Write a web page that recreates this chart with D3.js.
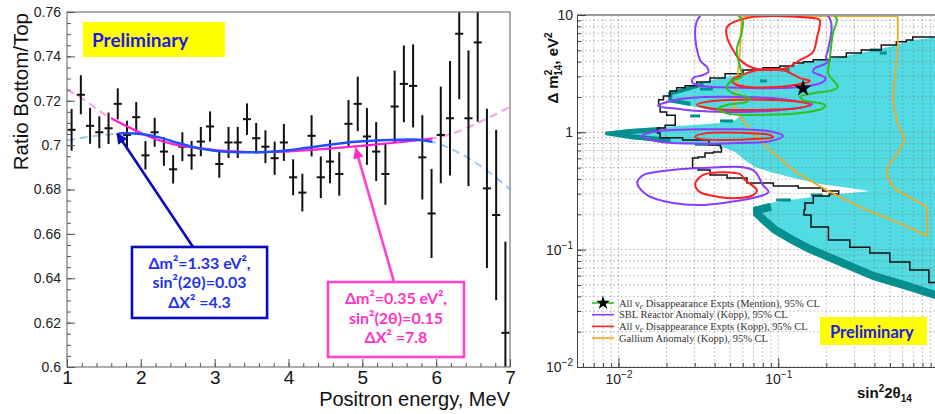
<!DOCTYPE html>
<html>
<head>
<meta charset="utf-8">
<script src="https://cdn.jsdelivr.net/npm/d3@7"></script>
<style>
body { margin: 0; background: #fff; }
</style>
</head>
<body>
<div id="chart"></div>
<script>
/* left: bottom/top ratio of the positron spectrum with two oscillation fits
   right: sterile neutrino exclusion (log-log) with allowed regions from other expts */

// ---------- left panel data ----------
const energy = [1.0625, 1.1875, 1.3125, 1.4375, 1.5625, 1.6875, 1.8125, 1.9375, 2.0625, 2.1875, 2.3125, 2.4375,
  2.5625, 2.6875, 2.8125, 2.9375, 3.0625, 3.1875, 3.3125, 3.4375, 3.5625, 3.6875, 3.8125, 3.9375,
  4.0625, 4.1875, 4.3125, 4.4375, 4.5625, 4.6875, 4.8125, 4.9375, 5.0625, 5.1875, 5.3125, 5.4375,
  5.5625, 5.6875, 5.8125, 5.9375, 6.0625, 6.1875, 6.3125, 6.4375, 6.5625, 6.6875, 6.8125, 6.9375];
const ratio = [0.7069, 0.7227, 0.7087, 0.7058, 0.7076, 0.7186, 0.7046, 0.7126, 0.6954, 0.7058, 0.6971, 0.6891,
  0.6993, 0.6954, 0.7016, 0.7084, 0.6915, 0.7012, 0.7012, 0.7117, 0.7031, 0.6993, 0.6941, 0.7012,
  0.6855, 0.6786, 0.7042, 0.6855, 0.6926, 0.6870, 0.7096, 0.7186, 0.7039, 0.6971, 0.6870, 0.7174,
  0.7276, 0.7267, 0.6945, 0.6692, 0.7046, 0.7121, 0.7502, 0.7121, 0.7463, 0.6805, 0.6685, 0.6154];
const ratioErr = [0.0094, 0.0088, 0.0081, 0.0072, 0.0071, 0.0070, 0.0064, 0.0068, 0.0064, 0.0065, 0.0064, 0.0064,
  0.0065, 0.0065, 0.0066, 0.0068, 0.0062, 0.0070, 0.0070, 0.0071, 0.0069, 0.0074, 0.0075, 0.0083,
  0.0081, 0.0085, 0.0093, 0.0094, 0.0098, 0.0098, 0.0107, 0.0123, 0.0128, 0.0133, 0.0139, 0.0162,
  0.0173, 0.0187, 0.0190, 0.0201, 0.0218, 0.0258, 0.0295, 0.0306, 0.0357, 0.0359, 0.0384, 0.0411];

const fitEnergy = [1, 1.25, 1.5, 1.75, 2, 2.25, 2.5, 2.75, 3, 3.25, 3.5, 3.75, 4, 4.25, 4.5, 4.75, 5, 5.25, 5.5, 5.75, 6, 6.25, 6.5, 6.75, 7];
const fitBlue = [0.7021, 0.7035, 0.7046, 0.7053, 0.7050, 0.7035, 0.7010, 0.6988, 0.6975, 0.6969, 0.6968, 0.6970, 0.6977,
  0.6988, 0.6999, 0.7010, 0.7017, 0.7022, 0.7024, 0.7024, 0.7010, 0.6975, 0.6928, 0.6870, 0.6800];
const fitPink = [0.7250, 0.7200, 0.7140, 0.7095, 0.7055, 0.7022, 0.7000, 0.6988, 0.6978, 0.6972, 0.6969, 0.6969, 0.6972,
  0.6977, 0.6983, 0.6990, 0.6997, 0.7005, 0.7013, 0.7022, 0.7033, 0.7055, 0.7090, 0.7130, 0.7172];

const ratioTicks = [0.6, 0.62, 0.64, 0.66, 0.68, 0.7, 0.72, 0.74, 0.76];
const ratioTickLabels = ["0.6", "0.62", "0.64", "0.66", "0.68", "0.7", "0.72", "0.74", "0.76"];
const energyTicks = [1, 2, 3, 4, 5, 6, 7];

const blueNote = ["Δm²=1.33 eV²,", "sin²(2θ)=0.03", "ΔX² =4.3"];
const pinkNote = ["Δm²=0.35 eV²,", "sin²(2θ)=0.15", "ΔX² =7.8"];

// ---------- right panel data: [sin^2 2theta, dm^2 (eV^2)] ----------
const excluded = [[1.0,6.49],[0.695,6.12],[0.521,5.44],[0.374,4.94],[0.243,4.39],[0.151,3.97],[0.113,3.60],[0.0695,3.27],
  [0.0521,3.02],[0.0414,2.85],[0.0338,2.68],[0.0281,2.48],[0.0243,2.34],[0.0205,2.21],[0.0205,1.81],[0.0281,1.68],
  [0.0432,1.49],[0.0577,1.38],[0.0536,1.27],[0.0432,1.20],[0.0281,1.15],[0.0182,1.11],[0.0118,1.07],[0.00826,1.01],
  [0.00826,0.948],[0.0118,0.877],[0.0211,0.811],[0.0374,0.779],[0.0465,0.735],[0.0536,0.679],[0.0619,0.581],
  [0.0715,0.506],[0.0888,0.459],[0.118,0.416],[0.182,0.362],[0.281,0.335],[0.374,0.316],[0.281,0.304],[0.182,0.286],
  [0.118,0.265],[0.0888,0.250],[0.0695,0.231],[0.0695,0.197],[0.0769,0.172],[0.0927,0.138],[0.118,0.114],
  [0.151,0.0955],[0.243,0.0724],[0.391,0.0551],[0.637,0.0453],[1.0,0.0372]];
const edgeLower = [[0.0888,0.250],[0.0695,0.231],[0.0695,0.197],[0.0769,0.172],[0.0927,0.138],[0.118,0.114],
  [0.151,0.0955],[0.243,0.0724],[0.391,0.0551],[0.637,0.0453],[1.0,0.0372]];
const edgeTongue = [[0.0182,1.11],[0.0118,1.07],[0.00826,1.01],[0.00826,0.948],[0.0118,0.877],[0.0211,0.811]];
const edgeUpper = [[0.0338,2.68],[0.0281,2.48],[0.0243,2.34],[0.0205,2.21],[0.0205,1.81],[0.0281,1.68]];
const tealDashes = [[0.374,0.432,5.03],[0.432,0.478,4.74],[0.103,0.118,3.40],[0.0769,0.085,2.74],[0.0324,0.039,2.34],
  [0.0281,0.0324,1.38],[0.0432,0.0521,1.25],[0.097,0.12,0.265],[0.03,0.037,0.79],[0.16,0.19,0.292]];

const blackContour = [[1.0,6.5],[0.695,6.5],[0.695,6.12],[0.577,5.92],[0.521,5.55],[0.374,5.03],[0.293,4.74],[0.243,4.39],
  [0.182,4.15],[0.151,4.0],[0.137,3.9],[0.113,3.67],[0.0927,3.55],[0.0695,3.4],[0.0521,3.15],[0.0414,2.9],[0.0338,2.68],
  [0.0281,2.5],[0.0243,2.4],[0.022,2.25],[0.0201,2.04],[0.0182,1.9],[0.0175,1.68],[0.019,1.49],[0.0211,1.4],[0.0243,1.27],
  [0.0211,1.15],[0.0182,1.09],[0.0169,0.987],[0.0196,0.9],[0.0324,0.859],[0.042,0.779],[0.0451,0.735],[0.0432,0.679],
  [0.0358,0.667],[0.0338,0.616],[0.0293,0.604],[0.0289,0.526],[0.0293,0.497],[0.0338,0.477],[0.0414,0.432],[0.0552,0.408],
  [0.0736,0.37],[0.118,0.348],[0.151,0.335],[0.239,0.316],[0.239,0.298],[0.182,0.286],[0.151,0.25],[0.143,0.218],
  [0.147,0.197],[0.175,0.156],[0.243,0.121],[0.324,0.105],[0.432,0.0936],[0.577,0.0784],[0.769,0.067],[1.0,0.0525]];

const purpleLoops = [
  [[0.0324,9.8],[0.205,9.8],[0.205,5.03],[0.199,4.39],[0.205,4.0],[0.190,3.75],[0.170,3.53],[0.165,3.27],[0.182,3.08],
   [0.198,2.90],[0.190,2.68],[0.165,2.53],[0.137,2.42],[0.0432,2.42],[0.031,2.53],[0.0289,2.68],[0.0293,2.90],
   [0.0338,3.08],[0.0366,3.27],[0.0358,3.60],[0.0324,4.13]],
  [[0.0177,1.68],[0.0243,1.92],[0.0324,1.99],[0.0577,2.0],[0.0888,1.96],[0.118,1.88],[0.163,1.72],[0.118,1.58],
   [0.0888,1.52],[0.0577,1.49],[0.0324,1.52],[0.0243,1.58]],
  [[0.014,0.93],[0.0182,1.03],[0.0324,1.06],[0.0577,1.06],[0.0888,1.02],[0.107,0.93],[0.0888,0.84],[0.0577,0.81],
   [0.0324,0.80],[0.0182,0.83]],
  [[0.0695,0.477],[0.0802,0.355],[0.0869,0.31],[0.0736,0.281],[0.0499,0.255],[0.0324,0.240],[0.022,0.250],
   [0.0151,0.292],[0.0131,0.370],[0.0143,0.432],[0.019,0.468],[0.0324,0.497]]];
const redLoops = [
  [[0.0637,9.43],[0.0478,7.90],[0.0478,6.49],[0.0521,5.03],[0.0577,4.13],[0.0695,3.53],[0.0927,3.40],[0.113,3.53],
   [0.137,4.13],[0.165,4.84],[0.175,6.49],[0.182,9.06],[0.165,9.43]],
  [[0.051,2.79],[0.0552,2.53],[0.0982,2.43],[0.158,2.74],[0.137,2.90],[0.107,3.40],[0.085,3.46],[0.0666,3.27],[0.0552,2.96]],
  [[0.031,1.72],[0.04,1.86],[0.0577,1.90],[0.0888,1.89],[0.13,1.83],[0.158,1.72],[0.13,1.6],[0.0888,1.56],[0.0577,1.55],[0.04,1.58]],
  [[0.0302,0.92],[0.0348,0.98],[0.0577,0.99],[0.0888,0.95],[0.0927,0.91],[0.0736,0.88],[0.0451,0.86],[0.0324,0.88]],
  [[0.031,0.392],[0.0348,0.44],[0.0577,0.44],[0.0619,0.392],[0.0736,0.322],[0.0695,0.292],[0.0552,0.275],[0.0415,0.283],
   [0.0324,0.309],[0.0302,0.355]]];
const greenContour = [[0.0562,9.8],[0.0598,9.06],[0.059,7.0],[0.055,5.03],[0.0577,3.62],[0.059,2.98],[0.0499,2.70],[0.0476,2.37],
  [0.0522,2.15],[0.0666,1.95],[0.0634,1.82],[0.0476,1.71],[0.042,1.60],[0.0476,1.45],[0.0848,1.41],[0.137,1.46],[0.19,1.60],
  [0.196,1.71],[0.143,1.88],[0.137,2.0],[0.165,2.15],[0.22,2.29],[0.236,2.45],[0.22,2.79],[0.206,3.14],[0.211,4.41],
  [0.22,7.0],[0.233,9.06],[0.226,9.8]];
const galliumContour = [[0.059,9.8],[0.0577,5.03],[0.055,2.62],[0.0528,1.65],[0.0577,1.36],[0.07,0.98],[0.0888,0.706],
  [0.131,0.45],[0.2,0.322],[0.357,0.218],[0.55,0.172],[0.86,0.131],[0.85,0.232],[0.71,0.265],[0.54,0.328],[0.478,0.416],
  [0.49,0.526],[0.56,0.667],[0.62,0.859],[0.56,1.20],[0.521,1.88],[0.56,5.34],[0.56,9.8]];
const bestFit = [0.143, 2.37];

const legendItems = [
  {color: "#2fbf1f", parts: ["All ν", "e", " Disappearance Expts (Mention), 95% CL"], star: true},
  {color: "#8b3dff", parts: ["SBL Reactor Anomaly (Kopp), 95% CL"]},
  {color: "#ff2020", parts: ["All ν", "e", " Disappearance Expts (Kopp), 95% CL"]},
  {color: "#f2a922", parts: ["Gallium Anomaly (Kopp), 95% CL"]}
];

// ---------- setup ----------
const width = 935, height = 414;
const sans = "'Liberation Sans', Arial, sans-serif";
const calib = "Lato, 'Open Sans', sans-serif";
const svg = d3.select("#chart").append("svg")
  .attr("width", width).attr("height", height)
  .attr("font-family", sans);
const defs = svg.append("defs");

// ================= LEFT PANEL =================
const x = d3.scaleLinear().domain([1, 7]).range([67, 510]);
const y = d3.scaleLinear().domain([0.6, 0.76]).range([367, 12]);

defs.append("clipPath").attr("id", "clipL").append("rect")
  .attr("x", x(1)).attr("y", y(0.76)).attr("width", x(7) - x(1)).attr("height", y(0.6) - y(0.76));
defs.append("clipPath").attr("id", "clipBlue").append("rect")
  .attr("x", x(1.7)).attr("y", 0).attr("width", x(5.95) - x(1.7)).attr("height", height);
defs.append("clipPath").attr("id", "clipPink").append("rect")
  .attr("x", x(1.6)).attr("y", 0).attr("width", x(5.95) - x(1.6)).attr("height", height);

const fitData = fitEnergy.map((e, i) => ({e, b: fitBlue[i], p: fitPink[i]}));
const fitLine = key => d3.line().curve(d3.curveCatmullRom).x(d => x(d.e)).y(d => y(d[key]));

const plotL = svg.append("g").attr("clip-path", "url(#clipL)");

// dashed extrapolations, then solid fit range
plotL.append("path").datum(fitData).attr("d", fitLine("p"))
  .attr("fill", "none").attr("stroke", "#ff9ce6").attr("stroke-width", 2).attr("stroke-dasharray", "8,5");
plotL.append("path").datum(fitData).attr("d", fitLine("b"))
  .attr("fill", "none").attr("stroke", "#9cc8ff").attr("stroke-width", 2).attr("stroke-dasharray", "8,5");

// error bars
const pts = plotL.append("g").selectAll("g").data(energy).join("g");
pts.append("line")
  .attr("x1", d => x(d)).attr("x2", d => x(d))
  .attr("y1", (d, i) => y(ratio[i] - ratioErr[i]))
  .attr("y2", (d, i) => y(ratio[i] + ratioErr[i]))
  .attr("stroke", "#111").attr("stroke-width", 2);
pts.append("line")
  .attr("x1", d => x(d - 0.055)).attr("x2", d => x(d + 0.055))
  .attr("y1", (d, i) => y(ratio[i])).attr("y2", (d, i) => y(ratio[i]))
  .attr("stroke", "#111").attr("stroke-width", 2);

plotL.append("path").datum(fitData).attr("d", fitLine("p")).attr("clip-path", "url(#clipPink)")
  .attr("fill", "none").attr("stroke", "#ff1fd0").attr("stroke-width", 2.2);
plotL.append("path").datum(fitData).attr("d", fitLine("b")).attr("clip-path", "url(#clipBlue)")
  .attr("fill", "none").attr("stroke", "#1f4fff").attr("stroke-width", 2.5);

// frame + axes
svg.append("rect").attr("x", x(1)).attr("y", y(0.76)).attr("width", x(7) - x(1)).attr("height", y(0.6) - y(0.76))
  .attr("fill", "none").attr("stroke", "#777").attr("stroke-width", 1.2);

svg.append("g").attr("transform", `translate(${x(1)},0)`)
  .call(d3.axisLeft(y).ticks(32).tickSize(-4).tickFormat(""))
  .call(g => g.select(".domain").remove())
  .call(g => g.selectAll("line").attr("stroke", "#555"));
svg.append("g").attr("transform", `translate(${x(1)},0)`)
  .call(d3.axisLeft(y).tickValues(ratioTicks).tickSize(-8).tickPadding(6)
    .tickFormat((d, i) => ratioTickLabels[i]))
  .call(g => g.select(".domain").remove())
  .call(g => g.selectAll("line").attr("stroke", "#555"))
  .call(g => g.selectAll("text").attr("font-size", 14).attr("fill", "#222").attr("font-family", sans));

svg.append("g").attr("transform", `translate(0,${y(0.6)})`)
  .call(d3.axisBottom(x).ticks(30).tickSize(-4).tickFormat(""))
  .call(g => g.select(".domain").remove())
  .call(g => g.selectAll("line").attr("stroke", "#555"));
svg.append("g").attr("transform", `translate(0,${y(0.6)})`)
  .call(d3.axisBottom(x).tickValues(energyTicks).tickSize(-8).tickPadding(4).tickFormat(d3.format("d")))
  .call(g => g.select(".domain").remove())
  .call(g => g.selectAll("line").attr("stroke", "#555"))
  .call(g => g.selectAll("text").attr("font-size", 19).attr("fill", "#111").attr("font-family", sans));

svg.append("text").attr("transform", "translate(28,13) rotate(-90)")
  .attr("text-anchor", "end").attr("font-size", 20.5).attr("fill", "#111").text("Ratio Bottom/Top");
svg.append("text").attr("x", 510).attr("y", 406).attr("text-anchor", "end")
  .attr("font-size", 20).attr("fill", "#111").text("Positron energy, MeV");

// preliminary tag
svg.append("rect").attr("x", 83).attr("y", 22).attr("width", 142).attr("height", 35).attr("fill", "#ffff00");
svg.append("text").attr("x", 92).attr("y", 47).attr("font-family", calib)
  .attr("font-weight", "bold").attr("font-size", 19).attr("fill", "#1a1ae0").text("Preliminary");

// annotations with arrows
function marker(id, color) {
  defs.append("marker").attr("id", id).attr("viewBox", "0 0 10 10").attr("refX", 9).attr("refY", 5)
    .attr("markerWidth", 11).attr("markerHeight", 11).attr("markerUnits", "userSpaceOnUse").attr("orient", "auto")
    .append("path").attr("d", "M0,0 L10,5 L0,10 z").attr("fill", color);
}
marker("arrBlue", "#0a0ac0");
marker("arrPink", "#ff33cc");

function note(lines, box, from, to, stroke, fill, arrowId) {
  svg.append("line").attr("x1", x(from[0])).attr("y1", y(from[1])).attr("x2", x(to[0])).attr("y2", y(to[1]))
    .attr("stroke", stroke).attr("stroke-width", 2.6).attr("marker-end", `url(#${arrowId})`);
  svg.append("rect").attr("x", x(box[0])).attr("y", y(box[1]))
    .attr("width", x(box[2]) - x(box[0])).attr("height", y(box[3]) - y(box[1]))
    .attr("fill", "#fff").attr("stroke", stroke).attr("stroke-width", 2.6);
  const cx = (x(box[0]) + x(box[2])) / 2;
  const top = y(box[1]);
  svg.append("g").selectAll("text").data(lines).join("text")
    .attr("x", cx).attr("y", (d, i) => top + 22 + i * 19.5).attr("text-anchor", "middle")
    .attr("font-family", calib).attr("font-weight", "bold")
    .attr("font-size", 16).attr("fill", fill).text(d => d);
}
note(blueNote, [1.88, 0.6541, 3.71, 0.6221], [2.707, 0.6541], [1.68, 0.7052], "#0a0ac0", "#2233e8", "arrBlue");
note(pinkNote, [4.535, 0.6383, 6.377, 0.6045], [5.43, 0.6383], [4.91, 0.6985], "#ff44cc", "#ff33c4", "arrPink");

// ================= RIGHT PANEL =================
const xr = d3.scaleLog().domain([0.0055, 1]).range([577, 938]);
const yr = d3.scaleLog().domain([0.01, 10]).range([367, 15]);

defs.append("clipPath").attr("id", "clipR").append("rect")
  .attr("x", xr(0.0055)).attr("y", yr(10)).attr("width", xr(1) - xr(0.0055)).attr("height", yr(0.01) - yr(10));

const rl = d3.line().x(d => xr(d[0])).y(d => yr(d[1]));
const stepLine = d3.line().curve(d3.curveStep).x(d => xr(d[0])).y(d => yr(d[1]));
const smoothClosed = d3.line().curve(d3.curveCatmullRomClosed.alpha(0.5)).x(d => xr(d[0])).y(d => yr(d[1]));
const smoothOpen = d3.line().curve(d3.curveCatmullRom.alpha(0.5)).x(d => xr(d[0])).y(d => yr(d[1]));

defs.append("clipPath").attr("id", "clipCyan").append("path").attr("d", rl(excluded));

const plotR = svg.append("g").attr("clip-path", "url(#clipR)");

plotR.append("path").attr("d", rl(excluded)).attr("fill", "#52dbe2");
const teal = plotR.append("g").attr("clip-path", "url(#clipCyan)");
teal.append("path").attr("d", rl(edgeLower)).attr("fill", "none").attr("stroke", "#00908f").attr("stroke-width", 16);
teal.append("path").attr("d", rl(edgeTongue)).attr("fill", "none").attr("stroke", "#00908f").attr("stroke-width", 10);
teal.append("path").attr("d", rl(edgeUpper)).attr("fill", "none").attr("stroke", "#00908f").attr("stroke-width", 8);
plotR.append("g").selectAll("rect").data(tealDashes).join("rect")
  .attr("x", d => xr(d[0])).attr("width", d => xr(d[1]) - xr(d[0]))
  .attr("y", d => yr(d[2]) - 1.5).attr("height", 3).attr("fill", "#00908f");

// grid
const gridX = xr.ticks(), gridY = yr.ticks();
plotR.append("g").selectAll("line").data(gridX).join("line")
  .attr("x1", d => xr(d)).attr("x2", d => xr(d)).attr("y1", yr(10)).attr("y2", yr(0.01))
  .attr("stroke", "#777").attr("stroke-opacity", 0.55).attr("stroke-width", 0.8).attr("stroke-dasharray", "2,2");
plotR.append("g").selectAll("line").data(gridY).join("line")
  .attr("y1", d => yr(d)).attr("y2", d => yr(d)).attr("x1", xr(0.0055)).attr("x2", xr(1))
  .attr("stroke", "#777").attr("stroke-opacity", 0.55).attr("stroke-width", 0.8).attr("stroke-dasharray", "2,2");

plotR.append("path").attr("d", stepLine(blackContour)).attr("fill", "none").attr("stroke", "#111").attr("stroke-width", 1.5);

plotR.append("path").attr("d", rl(galliumContour) + "Z").attr("fill", "none")
  .attr("stroke", "#f2a922").attr("stroke-width", 1.8).attr("stroke-linejoin", "round");
plotR.append("g").selectAll("path").data(purpleLoops).join("path").attr("d", smoothClosed)
  .attr("fill", "none").attr("stroke", "#8b3dff").attr("stroke-width", 2);
plotR.append("g").selectAll("path").data(redLoops).join("path").attr("d", smoothClosed)
  .attr("fill", "none").attr("stroke", "#ff2020").attr("stroke-width", 2);
plotR.append("path").attr("d", smoothOpen(greenContour)).attr("fill", "none")
  .attr("stroke", "#2fbf1f").attr("stroke-width", 2);

plotR.append("path").attr("transform", `translate(${xr(bestFit[0])},${yr(bestFit[1])})`)
  .attr("d", d3.symbol(d3.symbolStar, 90)).attr("fill", "#000");

// frame
svg.append("line").attr("x1", xr(0.0055)).attr("x2", width).attr("y1", yr(10)).attr("y2", yr(10))
  .attr("stroke", "#999").attr("stroke-width", 2);

// axes
const supText = {0.01: ["10", "−2"], 0.1: ["10", "−1"], 1: ["1", ""], 10: ["10", ""]};
function decadeLabels(g) {
  g.selectAll(".tick text").each(function(d) {
    const t = d3.select(this).text(supText[d][0])
      .attr("font-size", 14).attr("fill", "#222").attr("font-family", sans);
    if (supText[d][1]) t.append("tspan").attr("dy", "-0.55em").attr("font-size", 10).text(supText[d][1]);
  });
}
svg.append("g").attr("transform", `translate(${xr(0.0055)},0)`)
  .call(d3.axisLeft(yr).tickValues(gridY).tickSize(-4).tickFormat(""))
  .call(g => g.select(".domain").attr("stroke", "#444"))
  .call(g => g.selectAll("line").attr("stroke", "#444"));
svg.append("g").attr("transform", `translate(${xr(0.0055)},0)`)
  .call(d3.axisLeft(yr).tickValues([0.01, 0.1, 1, 10]).tickSize(-9).tickPadding(4))
  .call(g => g.select(".domain").remove())
  .call(g => g.selectAll("line").attr("stroke", "#444"))
  .call(decadeLabels);
svg.append("g").attr("transform", `translate(0,${yr(0.01)})`)
  .call(d3.axisBottom(xr).tickValues(gridX).tickSize(-4).tickFormat(""))
  .call(g => g.select(".domain").attr("stroke", "#444"))
  .call(g => g.selectAll("line").attr("stroke", "#444"));
svg.append("g").attr("transform", `translate(0,${yr(0.01)})`)
  .call(d3.axisBottom(xr).tickValues([0.01, 0.1]).tickSize(-9).tickPadding(7))
  .call(g => g.select(".domain").remove())
  .call(g => g.selectAll("line").attr("stroke", "#444"))
  .call(decadeLabels);

// axis titles
const yTitle = svg.append("text").attr("transform", "translate(558,68) rotate(-90)")
  .attr("text-anchor", "middle").attr("font-weight", "bold").attr("font-size", 15).attr("fill", "#111");
yTitle.append("tspan").text("Δ m");
yTitle.append("tspan").attr("dy", -6).attr("font-size", 10).text("2");
yTitle.append("tspan").attr("dx", -6).attr("dy", 10).attr("font-size", 10).text("14");
yTitle.append("tspan").attr("dy", -4).text(", eV");
yTitle.append("tspan").attr("dy", -6).attr("font-size", 10).text("2");

const xTitle = svg.append("text").attr("x", 857).attr("y", 398)
  .attr("font-weight", "bold").attr("font-size", 15).attr("fill", "#111");
xTitle.append("tspan").text("sin");
xTitle.append("tspan").attr("dy", -6).attr("font-size", 10).text("2");
xTitle.append("tspan").attr("dy", 6).text("2θ");
xTitle.append("tspan").attr("dy", 4).attr("font-size", 10).text("14");

// legend
const leg = svg.append("g").attr("transform", "translate(592,303)");
const row = leg.selectAll("g").data(legendItems).join("g").attr("transform", (d, i) => `translate(0,${i * 11.7})`);
row.append("line").attr("x1", 0).attr("x2", 22).attr("stroke", d => d.color).attr("stroke-width", 1.6);
row.filter(d => d.star).append("path").attr("transform", "translate(11,0)")
  .attr("d", d3.symbol(d3.symbolStar, 60)).attr("fill", "#000");
row.append("text").attr("x", 27).attr("y", 3.5).attr("font-family", "'Liberation Serif', 'DejaVu Serif', serif")
  .attr("font-size", 10.5).attr("fill", "#333")
  .each(function(d) {
    const t = d3.select(this);
    t.append("tspan").text(d.parts[0]);
    if (d.parts.length > 1) {
      t.append("tspan").attr("dy", 2).attr("font-size", 7.5).attr("font-style", "italic").text(d.parts[1]);
      t.append("tspan").attr("dy", -2).text(d.parts[2]);
    }
  });

svg.append("rect").attr("x", 820).attr("y", 317).attr("width", 107).attr("height", 28).attr("fill", "#ffff00");
svg.append("text").attr("x", 830).attr("y", 338).attr("font-family", calib)
  .attr("font-weight", "bold").attr("font-size", 16.5).attr("fill", "#1a1ae0").text("Preliminary");
</script>
</body>
</html>
